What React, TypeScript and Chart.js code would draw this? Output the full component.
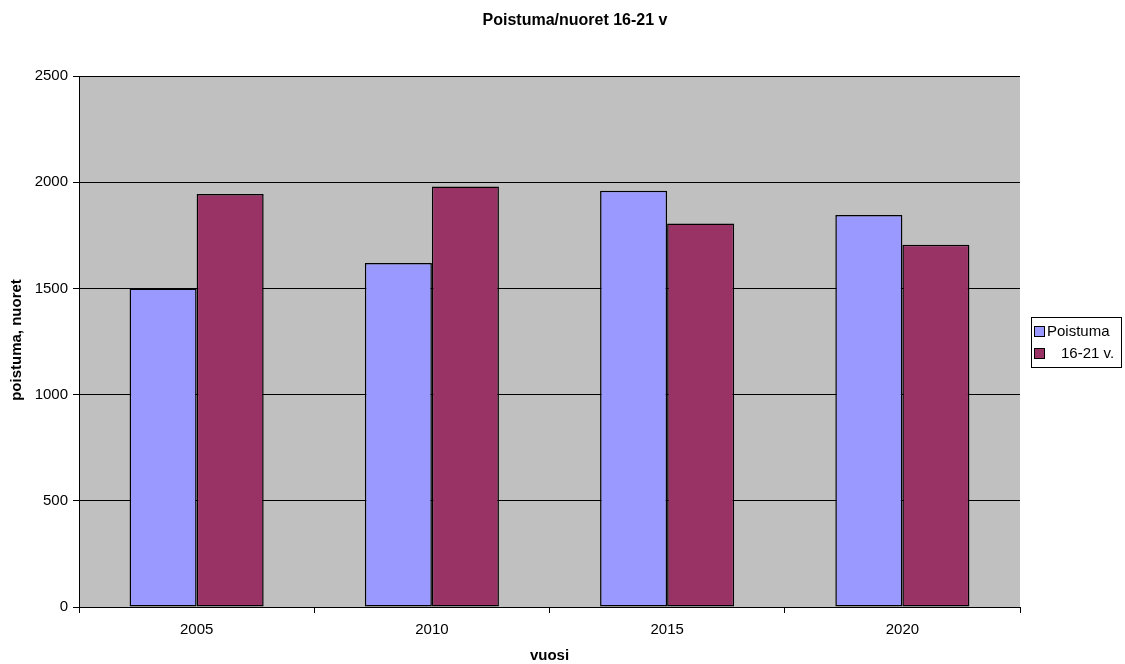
import React, { useEffect, useRef } from "react";
import { Chart, registerables } from "chart.js";

Chart.register(...registerables);

const categories = ["2005", "2010", "2015", "2020"];
const poistuma = [1500, 1620, 1960, 1845];
const nuoret = [1945, 1980, 1805, 1705];
const seriesLabels = ["Poistuma", "16-21 v."];
const yTicks = [0, 500, 1000, 1500, 2000, 2500];

const chartTitle = "Poistuma/nuoret 16-21 v";
const xTitle = "vuosi";
const yTitle = "poistuma, nuoret";

const FONT = "'Liberation Sans', Arial, sans-serif";
const colors = ["#9999FF", "#993366"];

const decorPlugin = {
  id: "decor",
  beforeDraw(chart: any) {
    const { ctx, chartArea } = chart;
    ctx.save();
    ctx.fillStyle = "#ffffff";
    ctx.fillRect(0, 0, chart.width, chart.height);
    ctx.fillStyle = "#C0C0C0";
    ctx.fillRect(chartArea.left, chartArea.top, chartArea.right - chartArea.left, chartArea.bottom - chartArea.top);
    ctx.restore();
  },
  afterDraw(chart: any) {
    const { ctx, chartArea } = chart;
    ctx.save();
    ctx.fillStyle = "#000";
    ctx.textAlign = "center";
    ctx.textBaseline = "middle";
    ctx.font = `bold 16px ${FONT}`;
    ctx.fillText(chartTitle, 575, 21);
    ctx.font = `bold 15px ${FONT}`;
    ctx.fillText(xTitle, (chartArea.left + chartArea.right) / 2, 656);
    ctx.save();
    ctx.translate(17, 340);
    ctx.rotate(-Math.PI / 2);
    ctx.fillText(yTitle, 0, 0);
    ctx.restore();

    // legend
    const lx = 1031.5, ly = 317.5, lw = 90, lh = 50;
    ctx.strokeStyle = "#000";
    ctx.lineWidth = 1;
    ctx.strokeRect(lx, ly, lw, lh);
    ctx.font = `15px ${FONT}`;
    ctx.textAlign = "left";
    const rows = [331, 353];
    const textX = [1047, 1061];
    seriesLabels.forEach((lab, i) => {
      ctx.fillStyle = colors[i];
      ctx.fillRect(1035, rows[i] - 4, 9, 9);
      ctx.strokeRect(1034.5, rows[i] - 4.5, 10, 10);
      ctx.fillStyle = "#000";
      ctx.fillText(lab, textX[i], rows[i] + 1);
    });
    ctx.restore();
  },
};

export default function App() {
  const ref = useRef<HTMLCanvasElement>(null);
  useEffect(() => {
    if (!ref.current) return;
    const chart = new Chart(ref.current, {
      type: "bar",
      data: {
        labels: categories,
        datasets: [
          {
            label: seriesLabels[0],
            data: poistuma,
            backgroundColor: colors[0],
            borderColor: "#000",
            borderWidth: 1.5,
            borderSkipped: false,
            barPercentage: 1,
            categoryPercentage: 0.57,
          },
          {
            label: seriesLabels[1],
            data: nuoret,
            backgroundColor: colors[1],
            borderColor: "#000",
            borderWidth: 1.5,
            borderSkipped: false,
            barPercentage: 1,
            categoryPercentage: 0.57,
          },
        ],
      },
      options: {
        animation: false,
        responsive: false,
        devicePixelRatio: 1,
        layout: { padding: { left: 0, top: 76, right: 105, bottom: 0 } },
        plugins: {
          legend: { display: false },
          title: { display: false },
          tooltip: { enabled: false },
        },
        scales: {
          x: {
            afterFit: (s: any) => { s.height = 57; },
            grid: {
              offset: true,
              drawOnChartArea: false,
              drawTicks: true,
              tickLength: 6,
              color: "#000",
            },
            border: { color: "#000" },
            ticks: { color: "#000", font: { family: FONT, size: 15 }, padding: 8 },
          },
          y: {
            min: 0,
            max: 2500,
            afterFit: (s: any) => { s.width = 79; },
            afterBuildTicks: (s: any) => { s.ticks = yTicks.map((v) => ({ value: v })); },
            grid: { color: "#000", tickLength: 6, drawTicks: true },
            border: { color: "#000" },
            ticks: {
              color: "#000",
              font: { family: FONT, size: 15 },
              padding: 5,
              callback: (v: any) => String(v),
            },
          },
        },
      },
      plugins: [decorPlugin],
    });
    return () => chart.destroy();
  }, []);
  return (
    <div style={{ position: "fixed", left: 0, top: 0, width: 1125, height: 664, background: "#fff" }}>
      <canvas ref={ref} width={1125} height={664} style={{ width: 1125, height: 664, display: "block" }} />
    </div>
  );
}
